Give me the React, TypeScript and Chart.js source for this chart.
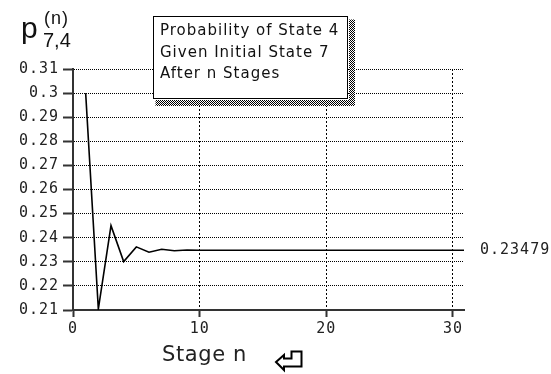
import React, { useEffect, useRef } from "react";
import { Chart, registerables } from "chart.js";

Chart.register(...registerables);

// ---- data ----
const stages = [1, 2, 3, 4, 5, 6, 7, 8, 9, 10, 11, 12, 13, 14, 15, 16, 17, 18, 19, 20, 21, 22, 23, 24, 25, 26, 27, 28, 29, 30, 31];
const probability = [
  0.3, 0.2104, 0.245, 0.2301, 0.2362, 0.234, 0.2352, 0.2346, 0.2349, 0.23477,
  0.23479, 0.23479, 0.23479, 0.23479, 0.23479, 0.23479, 0.23479, 0.23479, 0.23479, 0.23479,
  0.23479, 0.23479, 0.23479, 0.23479, 0.23479, 0.23479, 0.23479, 0.23479, 0.23479, 0.23479,
  0.23479,
];
const xTickValues = [0, 10, 20, 30];
const xTickLabels = ["0", "10", "20", "30"];
const yTickValues = [0.21, 0.22, 0.23, 0.24, 0.25, 0.26, 0.27, 0.28, 0.29, 0.3, 0.31];
const yTickLabels = ["0.21", "0.22", "0.23", "0.24", "0.25", "0.26", "0.27", "0.28", "0.29", "0.3", "0.31"];
const titleLines = ["Probability of State 4", "Given Initial State 7", "After n Stages"];
const limitLabel = "0.23479";
const xAxisTitle = "Stage n";
const yLabelMain = "p";
const yLabelSup = "(n)";
const yLabelSub = "7,4";

const MONO = '15px "DejaVu Sans Mono"';

function makeChecker(): CanvasPattern | string {
  const c = document.createElement("canvas");
  c.width = 2;
  c.height = 2;
  const g = c.getContext("2d");
  if (!g) return "#666";
  g.fillStyle = "#fff";
  g.fillRect(0, 0, 2, 2);
  g.fillStyle = "#000";
  g.fillRect(0, 0, 1, 1);
  g.fillRect(1, 1, 1, 1);
  const p = g.createPattern(c, "repeat");
  return p || "#666";
}

const decor = {
  id: "decor",
  beforeDraw(chart: any) {
    (chart.ctx as any).letterSpacing = "1px";
  },
  afterDraw(chart: any) {
    const { ctx } = chart;
    const yScale = chart.scales.y;
    const xScale = chart.scales.x;
    ctx.save();

    // limit value label
    ctx.font = MONO;
    (ctx as any).letterSpacing = "1px";
    ctx.fillStyle = "#222";
    ctx.textBaseline = "middle";
    ctx.textAlign = "left";
    ctx.fillText(limitLabel, xScale.right + 16, yScale.getPixelForValue(probability[probability.length - 1]));

    // title box with hatched shadow
    const bx = 153.5, by = 16.5, bw = 194, bh = 82;
    ctx.fillStyle = makeChecker();
    ctx.fillRect(bx + bw + 1.5, by + 3, 6, bh + 4);
    ctx.fillRect(bx + 2, by + bh + 1.5, bw + 5, 6);
    ctx.fillStyle = "#fff";
    ctx.fillRect(bx, by, bw, bh);
    ctx.strokeStyle = "#000";
    ctx.lineWidth = 1;
    ctx.strokeRect(bx, by, bw, bh);

    ctx.font = '15px "DejaVu Sans"';
    (ctx as any).letterSpacing = "1px";
    ctx.fillStyle = "#111";
    ctx.textBaseline = "alphabetic";
    const baselines = [35, 57, 78];
    titleLines.forEach((t, i) => ctx.fillText(t, 160, baselines[i]));

    // y axis label p^(n)_{7,4}
    (ctx as any).letterSpacing = "0px";
    ctx.font = '30px "Liberation Sans"';
    ctx.fillText(yLabelMain, 21, 38);
    ctx.font = '18px "Liberation Sans"';
    (ctx as any).letterSpacing = "1px";
    ctx.fillText(yLabelSup, 44, 24);
    ctx.font = '20px "Liberation Sans"';
    (ctx as any).letterSpacing = "0px";
    ctx.fillText(yLabelSub, 43, 47);

    // x axis title
    ctx.font = '21px "DejaVu Sans"';
    ctx.fillStyle = "#222";
    (ctx as any).letterSpacing = "0.6px";
    ctx.fillText(xAxisTitle, 162, 361);

    // return key icon
    ctx.beginPath();
    ctx.moveTo(276, 362);
    ctx.lineTo(284, 355);
    ctx.lineTo(284, 358.5);
    ctx.lineTo(291.5, 358.5);
    ctx.lineTo(291.5, 351.5);
    ctx.lineTo(301.5, 351.5);
    ctx.lineTo(301.5, 366.5);
    ctx.lineTo(284, 366.5);
    ctx.lineTo(284, 370);
    ctx.closePath();
    ctx.lineWidth = 2;
    ctx.strokeStyle = "#000";
    ctx.stroke();

    ctx.restore();
  },
};

export default function App() {
  const ref = useRef<HTMLCanvasElement | null>(null);

  useEffect(() => {
    if (!ref.current) return;
    const points = stages.map((n, i) => ({ x: n, y: probability[i] }));
    const chart = new Chart(ref.current, {
      type: "line",
      data: {
        datasets: [
          {
            data: points,
            borderColor: "#000",
            borderWidth: 1.6,
            pointRadius: 0,
            tension: 0,
            fill: false,
          },
        ],
      },
      options: {
        animation: false,
        responsive: false,
        events: [],
        layout: { padding: { left: 0, top: 69, right: 87, bottom: 0 } },
        plugins: { legend: { display: false }, tooltip: { enabled: false }, title: { display: false } },
        scales: {
          x: {
            type: "linear",
            min: 0,
            max: 30.87,
            afterBuildTicks: (s: any) => {
              s.ticks = xTickValues.map((v) => ({ value: v }));
            },
            afterFit: (s: any) => {
              s.height = 64;
            },
            ticks: {
              font: { family: "DejaVu Sans Mono", size: 15 },
              color: "#222",
              padding: 3,
              maxRotation: 0,
              autoSkip: false,
              callback: (_v: any, i: number) => xTickLabels[i],
            },
            grid: {
              color: "#000",
              lineWidth: 1,
              tickLength: 7,
              tickColor: "#333",
              tickWidth: 2,
              tickBorderDash: [],
            },
            border: { color: "#333", width: 2, dash: [2, 2] },
          },
          y: {
            type: "linear",
            min: 0.21,
            max: 0.31,
            afterBuildTicks: (s: any) => {
              s.ticks = yTickValues.map((v) => ({ value: v }));
            },
            afterFit: (s: any) => {
              s.width = 73;
            },
            ticks: {
              font: { family: "DejaVu Sans Mono", size: 15 },
              color: "#222",
              padding: 4,
              autoSkip: false,
              callback: (_v: any, i: number) => yTickLabels[i],
            },
            grid: {
              color: "#000",
              lineWidth: 1,
              tickLength: 10,
              tickColor: "#333",
              tickWidth: 2,
              tickBorderDash: [],
            },
            border: { color: "#333", width: 2, dash: [1, 1] },
          },
        },
      },
      plugins: [decor],
    } as any);
    return () => chart.destroy();
  }, []);

  return (
    <div style={{ position: "fixed", left: 0, top: 0, width: 551, height: 374, background: "#fff" }}>
      <canvas ref={ref} width={551} height={374} style={{ display: "block" }} />
    </div>
  );
}
